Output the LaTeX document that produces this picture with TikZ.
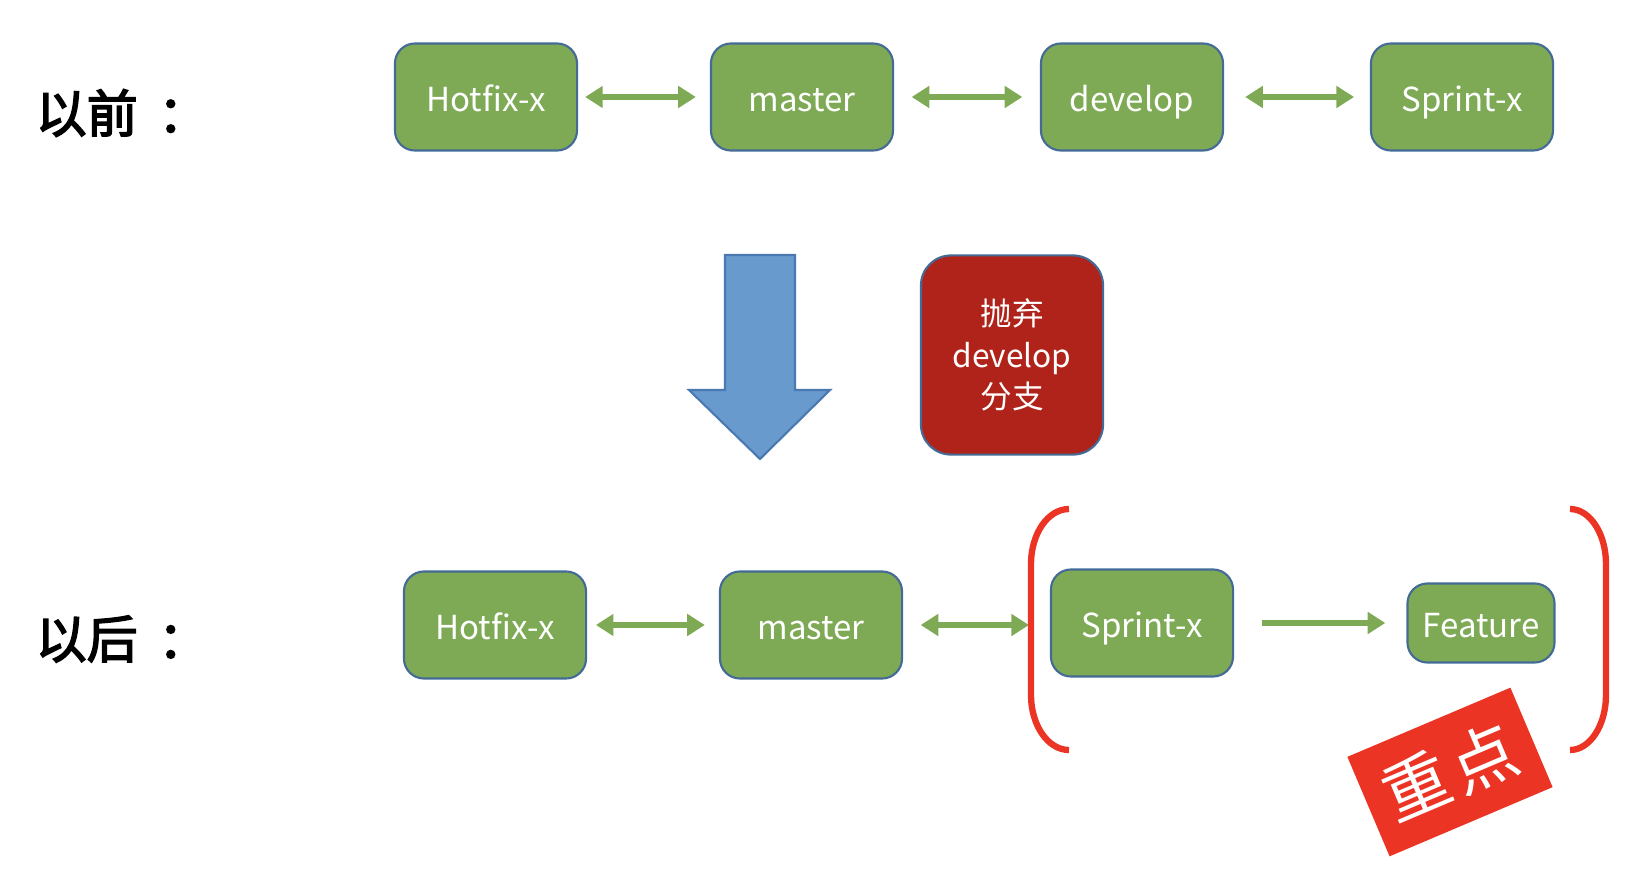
\documentclass[tikz,border=0pt]{standalone}
\usepackage{fontspec}
\setmainfont{Noto Sans CJK SC}
\newfontfamily\cjkbold[FakeBold=3]{Noto Sans CJK SC}
\usetikzlibrary{arrows.meta}
\definecolor{leaf}{RGB}{127,170,85}
\definecolor{rim}{RGB}{68,106,150}
\definecolor{brick}{RGB}{176,35,26}
\definecolor{sky}{RGB}{104,154,206}
\definecolor{skyrim}{RGB}{74,120,176}
\definecolor{alert}{RGB}{236,52,36}
\tikzset{
  branch/.style={draw=rim, line width=0.6pt, fill=leaf, rounded corners=0.2cm,
    minimum width=1.82cm, minimum height=1.07cm, inner sep=0pt, text=white,
    text height=9pt, text depth=0.5pt, font=\fontsize{9.4}{12}\selectfont},
  dropnote/.style={draw=rim, line width=0.6pt, fill=brick, rounded corners=0.3cm,
    minimum width=1.82cm, minimum height=1.99cm, inner sep=0pt, text=white, align=center,
    font=\fontsize{9}{11.8}\selectfont},
  link/.style={draw=leaf, line width=1.5pt, {Triangle[length=5pt,width=6pt]}-{Triangle[length=5pt,width=6pt]}},
  oneway/.style={draw=leaf, line width=1.5pt, -{Triangle[length=5pt,width=6pt]}},
  phase/.style={anchor=west, inner sep=0pt, font=\cjkbold\fontsize{14.5}{17}\selectfont},
  focus/.style={fill=alert, minimum width=1.77cm, minimum height=1.08cm, inner sep=0pt,
    text=white, font=\fontsize{19}{21}\selectfont}
}
\begin{document}
\begin{tikzpicture}[x=0.01cm,y=-0.01cm]
\useasboundingbox (0,0) rectangle (1638,888);
\def\leftbracket{(1069,509) arc[start angle=270, end angle=180, x radius=38, y radius=55] -- (1031,695) arc[start angle=180, end angle=90, x radius=38, y radius=55]}
\def\rightbracket{(1570,509) arc[start angle=270, end angle=360, x radius=36, y radius=55] -- (1606,695) arc[start angle=0, end angle=90, x radius=36, y radius=55]}

\node[phase] (before) at (35,113) {以前\hspace{0.4em}：};
\node[phase] (after) at (35,639) {以后\hspace{0.4em}：};

\node[branch] (oldhotfix) at (486,97) {Hotfix-x};
\node[branch] (oldmaster) at (802,97) {master};
\node[branch] (olddevelop) at (1132,97) {develop};
\node[branch] (oldsprint) at (1462,97) {Sprint-x};

\draw[link, shorten <=2pt, shorten >=4pt] (oldhotfix) -- (oldmaster);
\draw[link, shorten <=5pt, shorten >=5pt] (oldmaster) -- (olddevelop);
\draw[link, shorten <=6pt, shorten >=4.5pt] (olddevelop) -- (oldsprint);

\draw[draw=skyrim, line width=0.6pt, fill=sky] (725,255) -- (795,255) -- (795,390) -- (830,390)
    -- (760,459) -- (689,390) -- (725,390) -- cycle;
\node[dropnote] (dropdev) at (1012,355) {抛弃\\develop\\分支};

\node[branch] (newhotfix) at (495,625) {Hotfix-x};
\node[branch] (newmaster) at (811,625) {master};
\node[branch] (newsprint) at (1142,623) {Sprint-x};
\node[branch, minimum width=1.47cm, minimum height=0.79cm] (newfeature) at (1481,623) {Feature};
\coordinate (brleft) at (1029,625);

\draw[link, shorten <=2.5pt, shorten >=4pt] (newhotfix) -- (newmaster);
\draw[link, shorten <=5pt] (newmaster) -- (brleft);
\draw[oneway, shorten <=8pt, shorten >=6pt] (newsprint) -- (newfeature);

        \begin{scope}[draw=alert, line width=1.8pt]
        \draw \leftbracket;
        \draw \rightbracket;
        \end{scope}

\node[focus, rotate=23] (focus) at (1450,772) {重\hspace{0.08em}点};
\end{tikzpicture}
\end{document}
